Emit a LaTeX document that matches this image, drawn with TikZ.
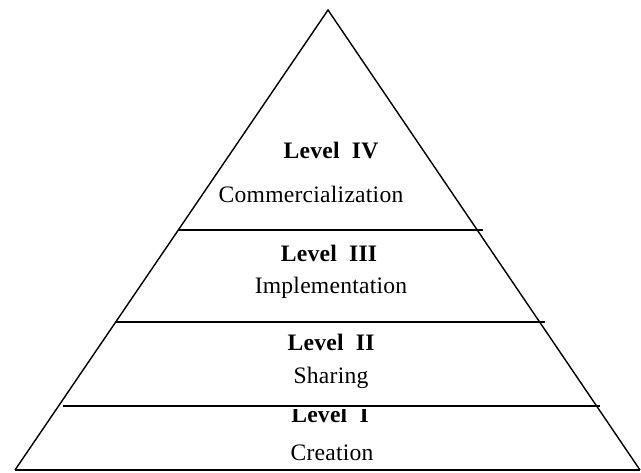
\documentclass[tikz,border=0pt]{standalone}
\usepackage{fontspec}
\setmainfont{Liberation Serif}[LetterSpace=1]
\usepackage{tikz}

\begin{document}
\begin{tikzpicture}[x=0.5pt, y=-0.5pt, line width=0.7pt,
    level/.style={anchor=base, inner sep=0pt, font=\fontsize{11.8}{14}\selectfont\bfseries},
    stage/.style={anchor=base, inner sep=0pt, font=\fontsize{11.8}{14}\selectfont}]
    \useasboundingbox (0,0) rectangle (641,472);

    \coordinate (apex) at (328,10);
    \coordinate (left) at (15,470);
    \coordinate (right) at (640,470);

    \draw (left) -- (apex) -- (right);
    \draw (left) -- (right);

    \draw (178,230) -- (483,230);
    \draw (116,322) -- (545,322);
    \draw (63,406) -- (600,406);

    \node (lvfour) [level] at (331,158) {Level\ \ IV};
    \node (commerce) [stage] at (311,202) {Commercialization};
    \node (lvthree) [level] at (329,261) {Level\ \ III};
    \node (implement) [stage] at (331,293) {Implementation};
    \node (lvtwo) [level] at (331,350) {Level\ \ II};
    \node (sharing) [stage] at (331,383) {Sharing};
    \begin{scope}
        \clip (0,409) rectangle (641,472);
        \node (lvone) [level] at (330,422) {Level\ \ I};
    \end{scope}
    \node (creation) [stage] at (332,460) {Creation};
\end{tikzpicture}
\end{document}
